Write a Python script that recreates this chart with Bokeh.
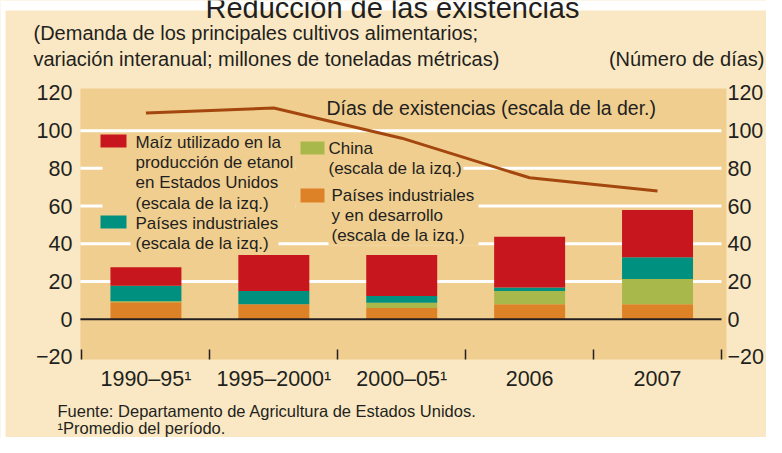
import numpy as np
from bokeh.plotting import figure
from bokeh.models import (ColumnDataSource, Range1d, LinearAxis, FixedTicker,
                          Label, BoxAnnotation)
from bokeh.embed import file_html
from bokeh.resources import INLINE

# ---------------- data ----------------
categories = ["1990–95¹", "1995–2000¹", "2000–05¹", "2006", "2007"]
ind_dev = [9.0, 8.0, 6.0, 8.0, 8.0]        # Países industriales y en desarrollo
china = [0.5, 0.0, 2.8, 7.0, 13.4]         # China
industrial = [8.3, 7.0, 3.5, 1.8, 11.5]    # Países industriales
maize = [9.8, 19.0, 21.7, 27.0, 25.0]      # Maíz para etanol en EE.UU.
days = [109.3, 112.0, 96.0, 75.0, 68.0]    # Días de existencias (escala der.)
y_ticks = [-20, 0, 20, 40, 60, 80, 100, 120]
grid_vals = [20, 40, 60, 80, 100]

# ---------------- styles ----------------
FONT = "Liberation Sans"
PANEL = "#F9E8C3"
PLOTBG = "#F0CE8F"
C_ORANGE = "#DE8228"
C_GREEN = "#A9B84B"
C_TEAL = "#00907F"
C_RED = "#C8161E"
C_LINE = "#A4470F"
TXT = "#231F20"

W, H = 766, 437
# plot-area extent in data units (the frame covers the whole canvas)
X0, X1 = -0.012, 5.039
Y0, Y1 = -21.4, 122.3

xpos = (np.arange(len(categories)) + 0.5).tolist()
src = ColumnDataSource(dict(x=xpos, ind_dev=ind_dev, china=china,
                            industrial=industrial, maize=maize, days=days))

p = figure(width=W, height=H, output_backend="svg", toolbar_location=None,
           x_range=Range1d(-0.637, 5.352), y_range=Range1d(-62.7, 169.0),
           min_border=0, title=None)
p.background_fill_color = PANEL
p.border_fill_color = PANEL
p.outline_line_color = None
p.xgrid.visible = False
p.ygrid.visible = False
p.extra_y_ranges = {"days": Range1d(-62.7, 169.0)}


def scr_box(l, r, t, b, color, level="annotation"):
    """box given in canvas pixels (top-left origin)"""
    p.add_layout(BoxAnnotation(left=l, right=r, top=H - t, bottom=H - b,
                               left_units="screen", right_units="screen",
                               top_units="screen", bottom_units="screen",
                               fill_color=color, fill_alpha=1, line_color=None,
                               level=level))


def lab(text, x, y, size, align="left", baseline="middle"):
    p.add_layout(Label(x=x, y=H - y, x_units="screen", y_units="screen",
                       text=text, text_font=FONT, text_font_size=size,
                       text_align=align, text_baseline=baseline,
                       text_color=TXT))

# white edges of the cropped source
scr_box(0, W, 0, 10, "white", level="image")
scr_box(0, 5, 0, H, "white", level="image")

# plot area
p.add_layout(BoxAnnotation(left=X0, right=X1, bottom=Y0, top=Y1,
                           fill_color=PLOTBG, fill_alpha=1, line_color=None,
                           level="image"))

# gridlines
gr = p.segment(x0=X0, x1=5.0, y0=grid_vals, y1=grid_vals,
               line_color="white", line_width=3)
gr.level = "underlay"

# legend backing that interrupts the gridlines
for l, r, t, b in [(102, 295, 133, 233), (130, 278, 233, 252),
                   (295, 463, 137, 178), (295, 478, 184, 226),
                   (328, 478, 226, 245)]:
    scr_box(l, r, t, b, PLOTBG, level="glyph")

# bars
for r in p.vbar_stack(["ind_dev", "china", "industrial", "maize"], x="x",
                      width=0.555, source=src,
                      color=[C_ORANGE, C_GREEN, C_TEAL, C_RED], line_color=None):
    r.level = "guide"

zl = p.segment(x0=[X0], x1=[5.0], y0=[0], y1=[0], line_color=TXT, line_width=2)
zl.level = "guide"

ln = p.line(x="x", y="days", source=src, line_color=C_LINE, line_width=3,
            y_range_name="days")
ln.level = "guide"

# axes (fixed at the plot-area edges)
la = p.yaxis[0]
la.ticker = FixedTicker(ticks=y_ticks)
la.fixed_location = X0
ra = LinearAxis(y_range_name="days", ticker=FixedTicker(ticks=y_ticks),
                fixed_location=X1)
p.add_layout(ra, "right")
for ax, so in [(la, 8), (ra, 1)]:
    ax.axis_line_color = None
    ax.major_tick_line_color = None
    ax.minor_tick_line_color = None
    ax.major_tick_out = 0
    ax.major_tick_in = 0
    ax.minor_tick_out = 0
    ax.minor_tick_in = 0
    ax.major_label_standoff = so
    ax.major_label_text_font = FONT
    ax.major_label_text_font_size = "21.5px"
    ax.major_label_text_color = TXT

xa = p.xaxis[0]
xa.fixed_location = Y0
xa.ticker = FixedTicker(ticks=xpos, minor_ticks=list(range(len(categories) + 1)))
xa.major_label_overrides = {xv: c for xv, c in zip(xpos, categories)}
xa.axis_line_color = None
xa.major_tick_line_color = None
xa.major_tick_out = 0
xa.major_tick_in = 0
xa.minor_tick_in = 10
xa.minor_tick_out = 0
xa.minor_tick_line_color = TXT
xa.minor_tick_line_width = 1.5
xa.major_label_standoff = 7
xa.major_label_text_font = FONT
xa.major_label_text_font_size = "21.5px"
xa.major_label_text_color = TXT

# texts
lab("Reducción de las existencias", 392, 7.5, "29px", align="center",
    baseline="alphabetic")
lab("(Demanda de los principales cultivos alimentarios;", 33, 32, "20px")
lab("variación interanual; millones de toneladas métricas)", 33, 58, "20px")
lab("(Número de días)", 764, 58, "20px", align="right")
lab("Días de existencias (escala de la der.)", 326, 107, "19.5px")

scr_box(100, 126, 134, 147, C_RED)
for i, t in enumerate(["Maíz utilizado en la", "producción de etanol",
                       "en Estados Unidos", "(escala de la izq.)"]):
    lab(t, 135, 142 + 20.2 * i, "17px")
scr_box(100, 126, 215, 228, C_TEAL)
lab("Países industriales", 135, 223, "17px")
lab("(escala de la izq.)", 135, 243, "17px")
scr_box(300, 324, 141, 154, C_GREEN)
lab("China", 328, 148, "17px")
lab("(escala de la izq.)", 328, 168, "17px")
scr_box(300, 324, 188, 202, C_ORANGE)
lab("Países industriales", 331, 195, "17px")
lab("y en desarrollo", 331, 215, "17px")
lab("(escala de la izq.)", 331, 235, "17px")

lab("Fuente: Departamento de Agricultura de Estados Unidos.", 57, 410, "16.5px")
lab("¹Promedio del período.", 57, 427, "16.5px")

open("out.html", "w").write(file_html(p, INLINE))
